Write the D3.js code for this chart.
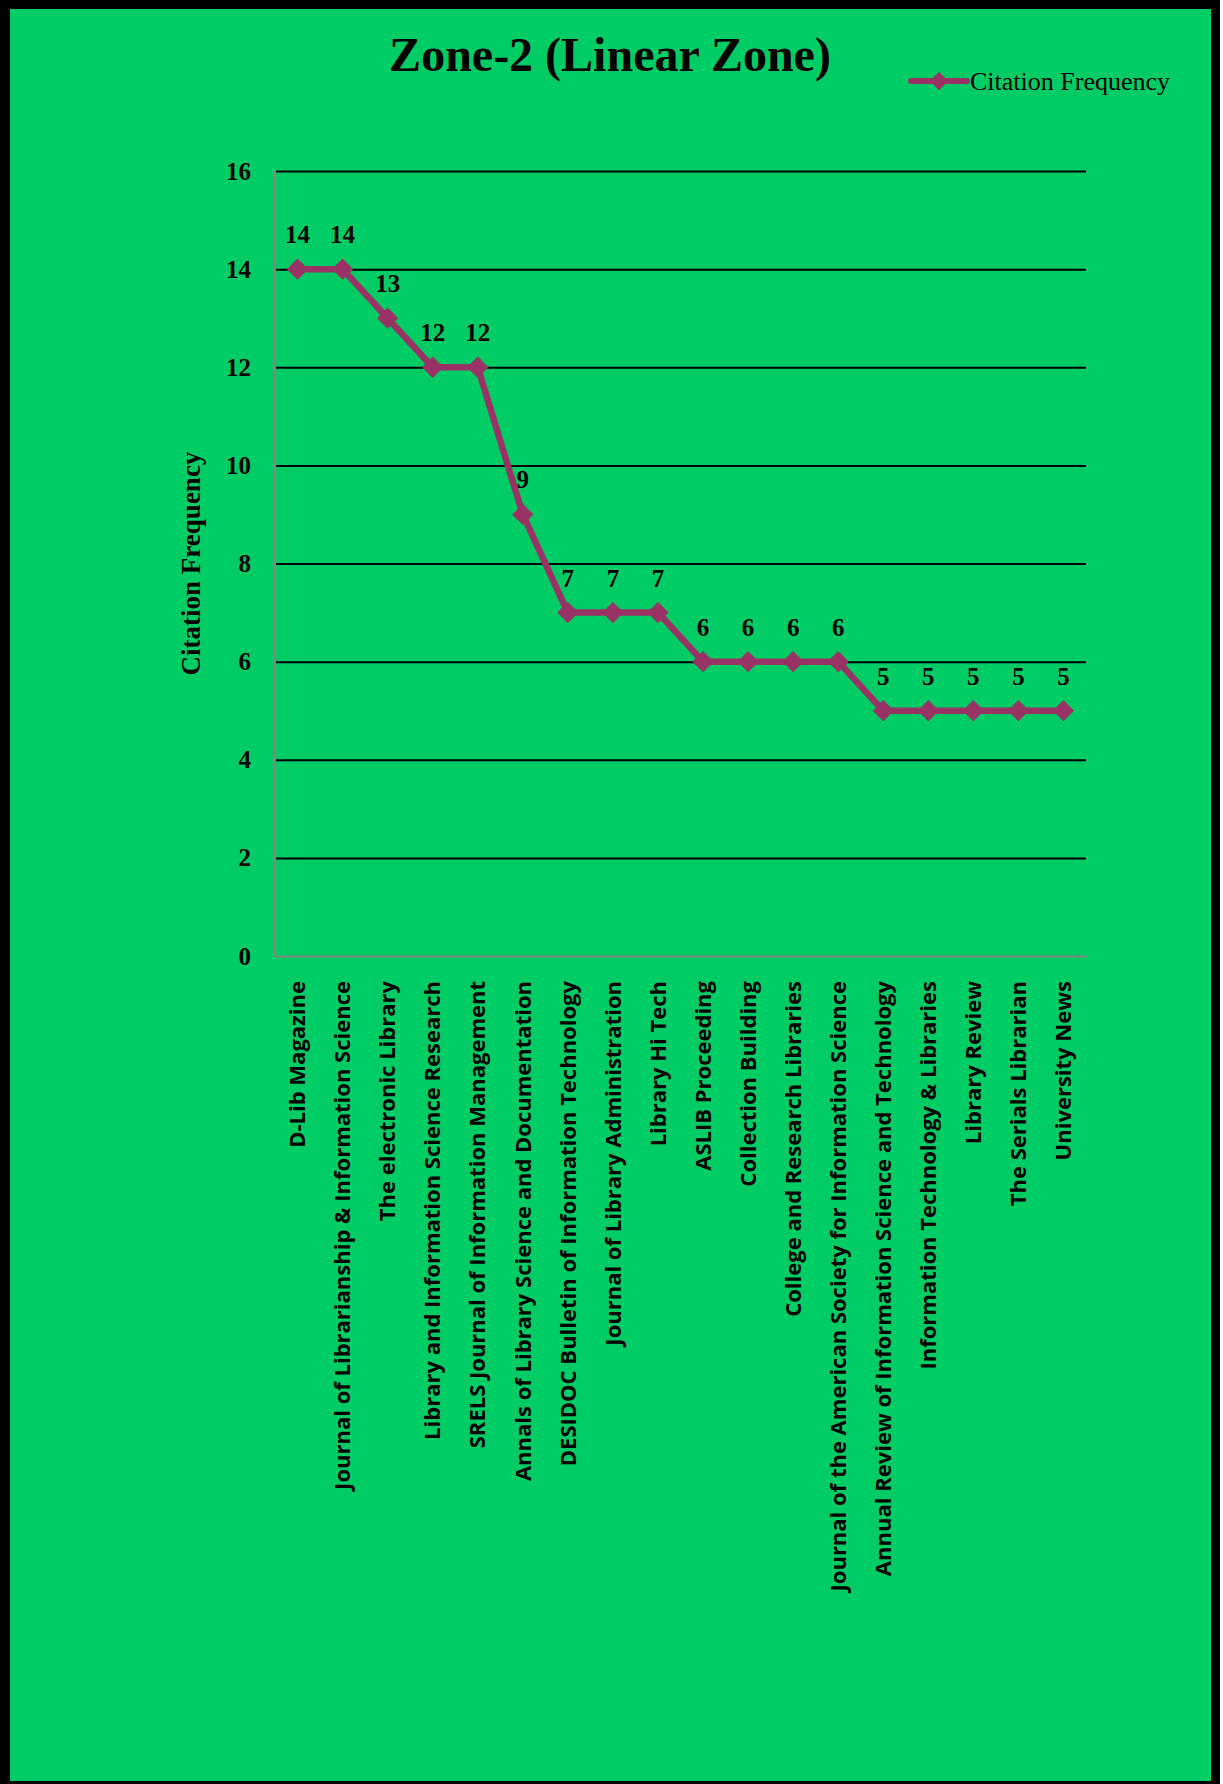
<!DOCTYPE html>
<html>
<head>
<meta charset="utf-8">
<script src="https://cdn.jsdelivr.net/npm/d3@7"></script>
<style>
  body { margin: 0; background: #fff; }
</style>
</head>
<body>
<div id="chart"></div>
<script>
var journals = [
    "D-Lib Magazine",
    "Journal of Librarianship & Information Science",
    "The electronic Library",
    "Library and Information Science Research",
    "SRELS Journal of Information Management",
    "Annals of Library Science and Documentation",
    "DESIDOC Bulletin of Information Technology",
    "Journal of Library Administration",
    "Library Hi Tech",
    "ASLIB Proceeding",
    "Collection Building",
    "College and Research Libraries",
    "Journal of the American Society for Information Science",
    "Annual Review of Information Science and Technology",
    "Information Technology & Libraries",
    "Library Review",
    "The Serials Librarian",
    "University News"
];
var citations = [14, 14, 13, 12, 12, 9, 7, 7, 7, 6, 6, 6, 6, 5, 5, 5, 5, 5];
var yTicks = [0, 2, 4, 6, 8, 10, 12, 14, 16];
var seriesName = "Citation Frequency";

var W = 1223, H = 1784;
var margin = { top: 171, right: 137, bottom: 828, left: 275 };
var width = W - margin.left - margin.right,
    height = H - margin.top - margin.bottom;

var lineColor = "#993366";
var serif = "'Liberation Serif', 'Times New Roman', serif";

var svg = d3.select("#chart").append("svg")
    .attr("width", W)
    .attr("height", H);

// frame
svg.append("rect")
    .attr("x", 0).attr("y", 0)
    .attr("width", 1220).attr("height", H)
    .attr("fill", "#000");
svg.append("rect")
    .attr("x", 10).attr("y", 9)
    .attr("width", 1201).attr("height", 1772)
    .attr("fill", "#00CC66");

var data = journals.map(function (d, i) {
    return { name: d, value: citations[i] };
});

var x = d3.scaleBand()
    .domain(journals)
    .range([0, width]);

var y = d3.scaleLinear()
    .domain([0, 16])
    .range([height, 0]);

var g = svg.append("g")
    .attr("transform", "translate(" + margin.left + "," + margin.top + ")");

// gridlines + y axis
var gY = g.append("g")
    .call(d3.axisLeft(y).tickValues(yTicks).tickSize(-width).tickPadding(24));
gY.select(".domain").remove();
gY.selectAll(".tick line")
    .attr("stroke", "#000")
    .attr("stroke-width", 2)
    .attr("x1", 1);
gY.selectAll(".tick text")
    .attr("font-family", serif)
    .attr("font-weight", "bold")
    .attr("font-size", 25)
    .attr("fill", "#000");
gY.selectAll(".tick").filter(function (d) { return d === 0; }).select("line").remove();

// axis lines
g.append("line")
    .attr("x1", 0).attr("x2", 0)
    .attr("y1", 0).attr("y2", height)
    .attr("stroke", "#868686").attr("stroke-width", 2);

var gX = g.append("g")
    .attr("transform", "translate(0," + height + ")")
    .call(d3.axisBottom(x).tickSize(0).tickPadding(0));
gX.select(".domain")
    .attr("stroke", "#868686")
    .attr("stroke-width", 2);
gX.selectAll(".tick text")
    .attr("font-family", "'Open Sans', sans-serif")
    .attr("font-weight", "bold")
    .attr("font-size", 22)
    .attr("fill", "#000")
    .attr("text-anchor", "end")
    .attr("transform", "translate(0,25) rotate(-90)")
    .attr("x", 0)
    .attr("y", 0)
    .attr("dy", "0.35em");

// y title
svg.append("text")
    .attr("transform", "translate(200," + (margin.top + height / 2) + ") rotate(-90)")
    .attr("text-anchor", "middle")
    .attr("font-family", serif)
    .attr("font-weight", "bold")
    .attr("font-size", 27)
    .text(seriesName);

// title
svg.append("text")
    .attr("x", 610)
    .attr("y", 71)
    .attr("text-anchor", "middle")
    .attr("font-family", serif)
    .attr("font-weight", "bold")
    .attr("font-size", 48)
    .text("Zone-2 (Linear Zone)");

// series line
var cx = function (d) { return x(d.name) + x.bandwidth() / 2; };
var line = d3.line()
    .x(cx)
    .y(function (d) { return y(d.value); });

g.append("path")
    .datum(data)
    .attr("d", line)
    .attr("fill", "none")
    .attr("stroke", lineColor)
    .attr("stroke-width", 6.5)
    .attr("stroke-linejoin", "round");

var diamond = d3.symbol().type(d3.symbolDiamond2).size(290);

g.selectAll(".marker")
    .data(data)
    .enter().append("path")
    .attr("class", "marker")
    .attr("d", diamond)
    .attr("transform", function (d) { return "translate(" + cx(d) + "," + y(d.value) + ")"; })
    .attr("fill", lineColor);

g.selectAll(".val")
    .data(data)
    .enter().append("text")
    .attr("class", "val")
    .attr("x", cx)
    .attr("y", function (d) { return y(d.value) - 26; })
    .attr("text-anchor", "middle")
    .attr("font-family", serif)
    .attr("font-weight", "bold")
    .attr("font-size", 25)
    .text(function (d) { return d.value; });

// legend
var leg = svg.append("g").attr("transform", "translate(911,81)");
leg.append("line")
    .attr("x1", 0).attr("x2", 56)
    .attr("stroke", lineColor).attr("stroke-width", 6)
    .attr("stroke-linecap", "round");
leg.append("path")
    .attr("d", d3.symbol().type(d3.symbolDiamond2).size(220))
    .attr("transform", "translate(28,0)")
    .attr("fill", lineColor);
leg.append("text")
    .attr("x", 59)
    .attr("dy", "0.35em")
    .attr("font-family", serif)
    .attr("font-size", 26)
    .text(seriesName);
</script>
</body>
</html>
